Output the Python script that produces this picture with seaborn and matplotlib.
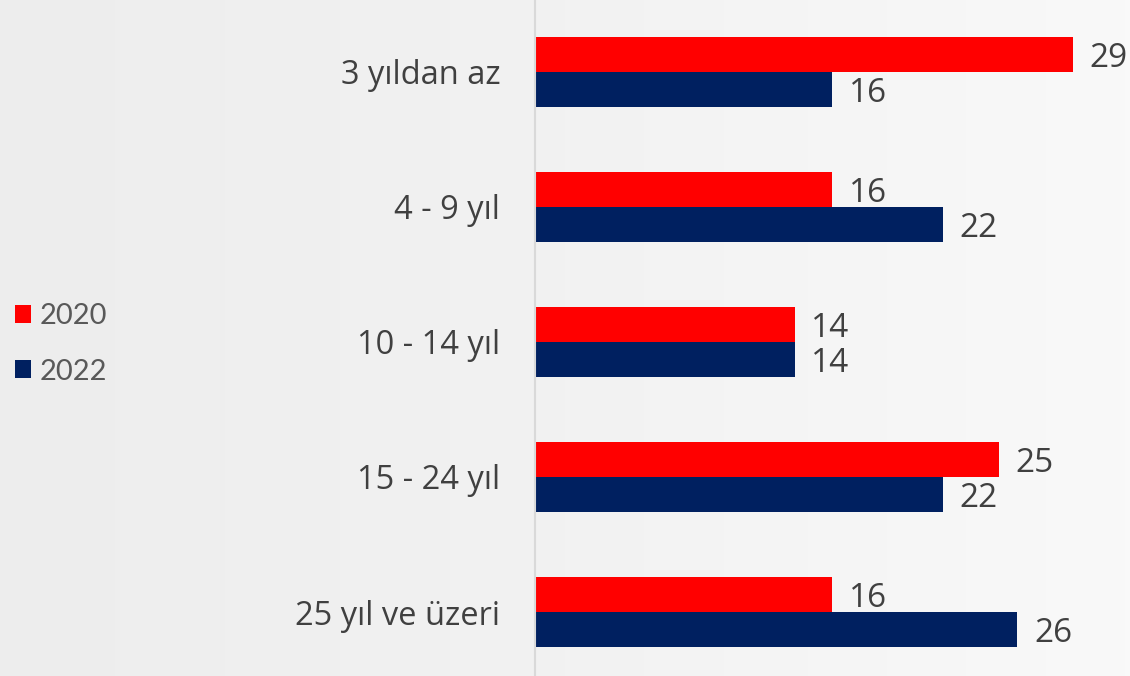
import numpy as np
import pandas as pd
import seaborn as sns
import matplotlib.pyplot as plt
from matplotlib.patches import Patch

# data
categories = ["3 yıldan az", "4 - 9 yıl", "10 - 14 yıl", "15 - 24 yıl", "25 yıl ve üzeri"]
years = ["2020", "2022"]
values_2020 = [29, 16, 14, 25, 16]
values_2022 = [16, 22, 14, 22, 26]

df = pd.DataFrame({
    "kategori": categories * 2,
    "yil": [years[0]] * len(categories) + [years[1]] * len(categories),
    "deger": values_2020 + values_2022,
})

colors = {"2020": "#ff0000", "2022": "#002060"}

sns.set_theme(style="white")
plt.rcParams["font.family"] = ["Open Sans", "DejaVu Sans"]

fig = plt.figure(figsize=(11.3, 6.76), dpi=100)

# soft gray background
bg = fig.add_axes([0, 0, 1, 1], zorder=-10)
grad = np.linspace(0, 1, 1130).reshape(1, -1)
bg.imshow(grad, aspect="auto", interpolation="nearest",
          cmap=sns.blend_palette(["#ededed", "#f2f2f2", "#f9f9f9"], n_colors=1024, as_cmap=True),
          extent=[0, 1, 0, 1])
bg.axis("off")

ax = fig.add_axes([535 / 1130, 0, 595 / 1130, 1])
ax.patch.set_alpha(0)

sns.barplot(data=df, y="kategori", x="deger", hue="yil", order=categories, hue_order=years,
            palette=colors, orient="h", width=0.5185, dodge=True, ax=ax, legend=False,
            edgecolor="none", linewidth=0, saturation=1)

ax.set_xlim(0, 32.07)
ax.set_ylim(4.474, -0.533)
ax.set_xlabel("")
ax.set_ylabel("")
ax.set_xticks([])
ax.tick_params(axis="y", length=0, pad=25, labelsize=23.5, labelcolor="#404040")

for s in ["top", "right", "bottom"]:
    ax.spines[s].set_visible(False)
ax.spines["left"].set_color("#d9d9d9")
ax.spines["left"].set_linewidth(1.5)

for cont in ax.containers:
    labels = ax.bar_label(cont, fmt="%d", padding=12, fontsize=24, color="#404040")
    for t in labels:
        t.xyann = (12, -3)

handles = [Patch(facecolor=colors[y], edgecolor="none", label=y) for y in years]
fig.legend(handles=handles, loc="center left", bbox_to_anchor=(15 / 1130, 1 - 344 / 676),
           frameon=False, labelcolor="#595959", handlelength=0.55, handleheight=0.55,
           handletextpad=0.31, labelspacing=1.0, borderpad=0, borderaxespad=0,
           prop={"family": ["Lato", "DejaVu Sans"], "size": 21})

fig.savefig("out.png", dpi=100)
